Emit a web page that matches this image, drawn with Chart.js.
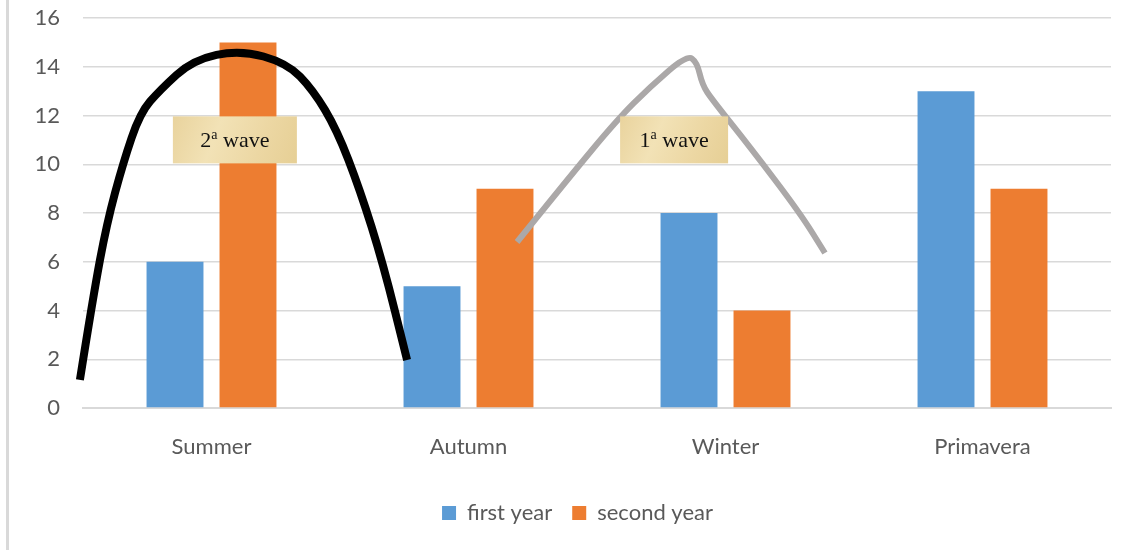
<!DOCTYPE html>
<html><head><meta charset="utf-8">
<script src="https://cdn.jsdelivr.net/npm/chart.js@4.4.1/dist/chart.umd.min.js"></script>
<style>
html,body{margin:0;padding:0;background:#fff;}
#wrap{position:relative;width:1129px;height:550px;overflow:hidden;}
#edge{position:absolute;left:6px;top:0;width:3px;height:550px;background:#d9d9d9;}
canvas{position:absolute;left:0;top:0;}
</style></head><body>
<div id="wrap"><canvas id="c" width="1129" height="550"></canvas><div id="edge"></div></div>
<script>
// ---- data ----
const categories = ['Summer', 'Autumn', 'Winter', 'Primavera'];
const seriesNames = ['first year', 'second year'];
const firstYear = [6, 5, 8, 13];
const secondYear = [15, 9, 4, 9];
const yTickValues = [0, 2, 4, 6, 8, 10, 12, 14, 16];

// hand-drawn curves, in (category index, value) units
const wave2X = [-0.512, -0.461, -0.407, -0.344, -0.278, -0.200, -0.072, 0.111, 0.294, 0.395, 0.488, 0.578, 0.667, 0.761];
const wave2Y = [1.15, 4.55, 7.59, 10.05, 12.10, 13.05, 14.28, 14.69, 14.15, 13.05, 11.41, 8.94, 5.95, 1.97];
const wave1X = [1.189, 1.383, 1.578, 1.706, 1.850, 1.889, 1.910, 1.949, 2.095, 2.290, 2.387];
const wave1Y = [6.81, 9.35, 11.82, 13.17, 14.48, 14.19, 13.25, 12.64, 10.71, 8.00, 6.36];

// callout labels
const calloutText = [['2', 'a', ' wave'], ['1', 'a', ' wave']];
const calloutAt = [[0.091, 11.0], [1.800, 11.0]];

// ---- build ----
const FONT = 'Lato';
const GREY = '#595959';
const calloutBoxW = [124, 108];
const curveStyles = [{color: '#000', width: 8}, {color: '#aba8a8', width: 6}];

function strokeSmooth(ctx, pts) {
  ctx.beginPath();
  ctx.moveTo(pts[0][0], pts[0][1]);
  for (let i = 1; i < pts.length - 1; i++) {
    const mx = (pts[i][0] + pts[i + 1][0]) / 2, my = (pts[i][1] + pts[i + 1][1]) / 2;
    ctx.quadraticCurveTo(pts[i][0], pts[i][1], mx, my);
  }
  const n = pts.length - 1;
  ctx.lineTo(pts[n][0], pts[n][1]);
  ctx.stroke();
}

const annotPlugin = {
  id: 'annot',
  afterLayout(chart) {
    if (chart.legend) chart.legend.left += 44;
  },
  afterDatasetsDraw(chart) {
    const ctx = chart.ctx, xs = chart.scales.x, ys = chart.scales.y;
    [[wave2X, wave2Y], [wave1X, wave1Y]].forEach((c, k) => {
      const pts = c[0].map((x, i) => [xs.getPixelForValue(x), ys.getPixelForValue(c[1][i])]);
      ctx.save();
      ctx.strokeStyle = curveStyles[k].color;
      ctx.lineWidth = curveStyles[k].width;
      ctx.lineJoin = 'round';
      ctx.lineCap = 'butt';
      strokeSmooth(ctx, pts);
      ctx.restore();
    });
    calloutText.forEach((t, i) => {
      const cx = xs.getPixelForValue(calloutAt[i][0]);
      const cy = ys.getPixelForValue(calloutAt[i][1]);
      const w = calloutBoxW[i], h = 47;
      const x0 = cx - w / 2, y0 = cy - h / 2;
      ctx.save();
      const g = ctx.createLinearGradient(x0, y0, x0 + w, y0 + h);
      g.addColorStop(0, '#e9d39d');
      g.addColorStop(0.35, '#f2e2b6');
      g.addColorStop(0.7, '#ecd7a3');
      g.addColorStop(1, '#e6cf95');
      ctx.fillStyle = g;
      ctx.fillRect(x0, y0, w, h);
      const big = '22px "Liberation Serif"', small = '14px "Liberation Serif"';
      ctx.font = big; const w1 = ctx.measureText(t[0]).width; const w3 = ctx.measureText(t[2]).width;
      ctx.font = small; const w2 = ctx.measureText(t[1]).width;
      let x = cx - (w1 + w2 + w3) / 2;
      const base = cy + 7;
      ctx.fillStyle = '#111';
      ctx.textBaseline = 'alphabetic';
      ctx.textAlign = 'left';
      ctx.font = big; ctx.fillText(t[0], x, base); x += w1;
      ctx.font = small; ctx.fillText(t[1], x, base - 8); x += w2;
      ctx.font = big; ctx.fillText(t[2], x, base);
      ctx.restore();
    });
  }
};

new Chart(document.getElementById('c'), {
  type: 'bar',
  data: {
    labels: categories,
    datasets: [
      {label: seriesNames[0], data: firstYear, backgroundColor: '#5b9bd5',
       categoryPercentage: 0.568, barPercentage: 0.78},
      {label: seriesNames[1], data: secondYear, backgroundColor: '#ed7d31',
       categoryPercentage: 0.568, barPercentage: 0.78}
    ]
  },
  options: {
    responsive: false,
    animation: false,
    layout: {padding: {left: 0, right: 18, top: 18, bottom: 16}},
    plugins: {
      tooltip: {enabled: false},
      legend: {
        position: 'bottom',
        labels: {
          boxWidth: 14, boxHeight: 14, padding: 20,
          color: GREY, font: {family: FONT, size: 22}
        }
      }
    },
    scales: {
      x: {
        grid: {display: false, drawTicks: false},
        border: {display: true, color: '#d9d9d9', width: 2},
        ticks: {color: GREY, font: {family: FONT, size: 22}, padding: 26},
        afterFit: (s) => { s.height = 74; }
      },
      y: {
        min: 0, max: 16,
        afterBuildTicks: (s) => { s.ticks = yTickValues.map(v => ({value: v})); },
        grid: {color: '#d9d9d9', lineWidth: 1.5, drawTicks: false},
        border: {display: false},
        ticks: {color: GREY, font: {family: FONT, size: 22}, padding: 23},
        afterFit: (s) => { s.width = 83; s.paddingTop = 0; s.paddingBottom = 0; }
      }
    }
  },
  plugins: [annotPlugin]
});
</script>
</body></html>
